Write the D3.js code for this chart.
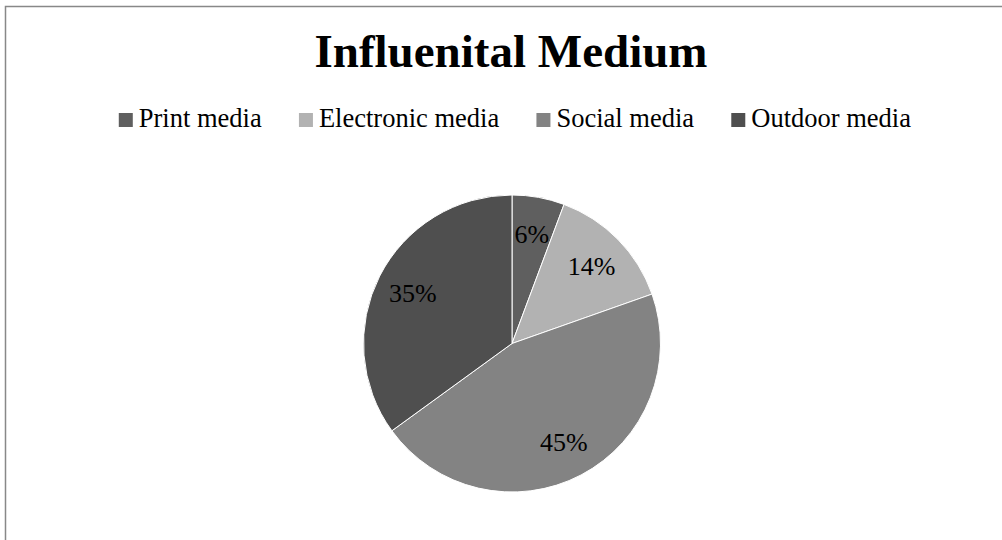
<!DOCTYPE html>
<html>
<head>
<meta charset="utf-8">
<script src="https://cdn.jsdelivr.net/npm/d3@7"></script>
<style>
  body { margin: 0; background: #fff; }
  svg { display: block; }
</style>
</head>
<body>
<div id="chart"></div>
<script>
const title = "Influenital Medium";
const categories = ["Print media", "Electronic media", "Social media", "Outdoor media"];
const shares = [5.7, 13.9, 45.4, 35.0];
const colors = ["#5f5f5f", "#b2b2b2", "#838383", "#4f4f4f"];

const width = 1002, height = 540;
const svg = d3.select("#chart").append("svg")
  .attr("width", width)
  .attr("height", height);

// chart frame (runs off the right/bottom edge like the screenshot)
svg.append("rect")
  .attr("x", 5.5).attr("y", 6.5)
  .attr("width", width + 10).attr("height", height + 10)
  .attr("fill", "#fff")
  .attr("stroke", "#888")
  .attr("stroke-width", 1.5);

svg.append("text")
  .attr("x", 511).attr("y", 67)
  .attr("text-anchor", "middle")
  .style("font-family", "'Liberation Serif', 'DejaVu Serif', serif")
  .style("font-weight", "bold")
  .style("font-size", "47px")
  .attr("fill", "#000")
  .text(title);

// legend
const legend = svg.append("g").attr("transform", "translate(0,127)");
const items = legend.selectAll("g")
  .data(categories)
  .enter().append("g");

items.append("rect")
  .attr("y", -14)
  .attr("width", 14).attr("height", 14)
  .attr("fill", (d, i) => colors[i]);

items.append("text")
  .attr("x", 20)
  .style("font-family", "'Liberation Serif', serif")
  .style("font-size", "26.5px")
  .attr("fill", "#000")
  .text(d => d);

let x = 0;
const gap = 37;
items.each(function() {
  const w = this.getBBox().width;
  d3.select(this).attr("data-x", x);
  x += w + gap;
});
const total = x - gap;
const start = 515 - total / 2;
items.attr("transform", function() {
  return `translate(${start + (+this.getAttribute("data-x"))},0)`;
});

// pie
const R = 148.5;
const g = svg.append("g").attr("transform", "translate(512,343.5)");
const pie = d3.pie().sort(null).value(d => d);
const arc = d3.arc().innerRadius(0).outerRadius(R);
const labelArc = d3.arc().innerRadius(R * 0.75).outerRadius(R * 0.75);
const arcs = pie(shares);
const sum = d3.sum(shares);
const fmt = d3.format(".0%");

g.selectAll("path")
  .data(arcs)
  .enter().append("path")
  .attr("d", arc)
  .attr("fill", (d, i) => colors[i])
  .attr("stroke", "#fff")
  .attr("stroke-width", 1);

g.selectAll("text")
  .data(arcs)
  .enter().append("text")
  .attr("transform", d => `translate(${labelArc.centroid(d)})`)
  .attr("text-anchor", "middle")
  .attr("dy", "0.35em")
  .style("font-family", "'Liberation Serif', serif")
  .style("font-size", "26px")
  .attr("fill", "#000")
  .text(d => fmt(d.data / sum));
</script>
</body>
</html>
